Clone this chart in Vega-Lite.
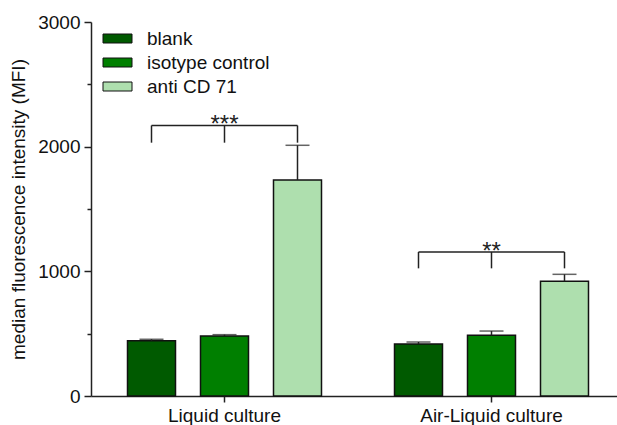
{
  "$schema": "https://vega.github.io/schema/vega-lite/v6.json",
  "autosize": "none",
  "padding": {"left": 91, "top": 22, "right": 0, "bottom": 29},
  "width": 534,
  "height": 374,
  "config": {
    "font": "Liberation Sans",
    "view": {"stroke": null},
    "axis": {
      "grid": false,
      "labelFont": "Liberation Sans",
      "titleFont": "Liberation Sans",
      "labelColor": "#111111",
      "titleColor": "#111111",
      "domainColor": "#222222",
      "tickColor": "#222222",
      "domainWidth": 1.5,
      "tickWidth": 1.5
    }
  },
  "datasets": {
    "bars": [
      {"group": "Liquid culture", "treatment": "blank", "mfi": 443, "upper": 455},
      {"group": "Liquid culture", "treatment": "isotype control", "mfi": 481, "upper": 492},
      {"group": "Liquid culture", "treatment": "anti CD 71", "mfi": 1733, "upper": 2011},
      {"group": "Air-Liquid culture", "treatment": "blank", "mfi": 417, "upper": 433},
      {"group": "Air-Liquid culture", "treatment": "isotype control", "mfi": 487, "upper": 521},
      {"group": "Air-Liquid culture", "treatment": "anti CD 71", "mfi": 920, "upper": 976}
    ],
    "brackets": [
      {"group": "Liquid culture", "treatment": "blank", "lo": 2032, "hi": 2170},
      {"group": "Liquid culture", "treatment": "isotype control", "lo": 2032, "hi": 2170},
      {"group": "Liquid culture", "treatment": "anti CD 71", "lo": 2032, "hi": 2170},
      {"group": "Air-Liquid culture", "treatment": "blank", "lo": 1024, "hi": 1155},
      {"group": "Air-Liquid culture", "treatment": "isotype control", "lo": 1024, "hi": 1155},
      {"group": "Air-Liquid culture", "treatment": "anti CD 71", "lo": 1024, "hi": 1155}
    ],
    "stars": [
      {"group": "Liquid culture", "treatment": "isotype control", "y": 2170, "label": "***"},
      {"group": "Air-Liquid culture", "treatment": "isotype control", "y": 1155, "label": "**"}
    ]
  },
  "resolve": {"axis": {"y": "independent"}},
  "layer": [
    {
      "data": {"name": "bars"},
      "mark": {"type": "bar", "stroke": "#111111", "strokeWidth": 1.5},
      "encoding": {
        "x": {
          "field": "group", "type": "nominal",
          "sort": ["Liquid culture", "Air-Liquid culture"],
          "scale": {"paddingInner": 0, "paddingOuter": 0},
          "axis": {"title": null, "labelAngle": 0, "labelFontSize": 19, "tickSize": 6, "labelPadding": 4}
        },
        "xOffset": {
          "field": "treatment", "type": "nominal",
          "sort": ["blank", "isotype control", "anti CD 71"],
          "scale": {"paddingInner": 0.3425, "paddingOuter": 0.5}
        },
        "y": {
          "field": "mfi", "type": "quantitative",
          "scale": {"domain": [0, 3000], "nice": false},
          "axis": {
            "orient": "left",
            "title": "median fluorescence intensity (MFI)",
            "titleFontSize": 19, "titleFontWeight": "normal", "titlePadding": 9,
            "values": [0, 1000, 2000, 3000], "format": "d",
            "labelFontSize": 19, "tickSize": 7, "labelPadding": 4
          }
        },
        "fill": {
          "field": "treatment", "type": "nominal",
          "sort": ["blank", "isotype control", "anti CD 71"],
          "scale": {"range": ["#005a00", "#007f00", "#aedfae"]},
          "legend": {
            "title": null,
            "orient": "none",
            "legendX": 16,
            "legendY": 6,
            "padding": 0,
            "symbolType": "M-1.45,-0.45H1.45V0.45H-1.45Z",
            "symbolSize": 400,
            "symbolStrokeColor": "#111111",
            "symbolStrokeWidth": 1,
            "labelFont": "Liberation Sans",
            "labelFontSize": 19,
            "labelColor": "#111111",
            "labelOffset": 19,
            "rowPadding": 3
          }
        }
      }
    },
    {
      "data": {"name": "bars"},
      "mark": {"type": "rule", "color": "#222222", "strokeWidth": 1.5},
      "encoding": {
        "x": {"field": "group", "type": "nominal", "sort": ["Liquid culture", "Air-Liquid culture"]},
        "xOffset": {"field": "treatment", "type": "nominal", "sort": ["blank", "isotype control", "anti CD 71"]},
        "y": {"field": "mfi", "type": "quantitative", "axis": null},
        "y2": {"field": "upper"}
      }
    },
    {
      "data": {"name": "bars"},
      "mark": {"type": "tick", "color": "#222222", "thickness": 1.5, "size": 24, "orient": "horizontal"},
      "encoding": {
        "x": {"field": "group", "type": "nominal", "sort": ["Liquid culture", "Air-Liquid culture"]},
        "xOffset": {"field": "treatment", "type": "nominal", "sort": ["blank", "isotype control", "anti CD 71"]},
        "y": {"field": "upper", "type": "quantitative", "axis": null}
      }
    },
    {
      "data": {"name": "brackets"},
      "mark": {"type": "rule", "color": "#222222", "strokeWidth": 1.5},
      "encoding": {
        "x": {"field": "group", "type": "nominal", "sort": ["Liquid culture", "Air-Liquid culture"]},
        "xOffset": {"field": "treatment", "type": "nominal", "sort": ["blank", "isotype control", "anti CD 71"]},
        "y": {"field": "lo", "type": "quantitative", "axis": null},
        "y2": {"field": "hi"}
      }
    },
    {
      "data": {"name": "brackets"},
      "mark": {"type": "line", "color": "#222222", "strokeWidth": 1.5},
      "encoding": {
        "x": {"field": "group", "type": "nominal", "sort": ["Liquid culture", "Air-Liquid culture"]},
        "xOffset": {"field": "treatment", "type": "nominal", "sort": ["blank", "isotype control", "anti CD 71"]},
        "y": {"field": "hi", "type": "quantitative", "axis": null},
        "detail": {"field": "group"}
      }
    },
    {
      "data": {"name": "stars"},
      "mark": {"type": "text", "fontSize": 24, "font": "Liberation Sans", "color": "#222222", "baseline": "alphabetic", "dy": 7},
      "encoding": {
        "x": {"field": "group", "type": "nominal", "sort": ["Liquid culture", "Air-Liquid culture"]},
        "xOffset": {"field": "treatment", "type": "nominal", "sort": ["blank", "isotype control", "anti CD 71"]},
        "y": {"field": "y", "type": "quantitative", "axis": null},
        "text": {"field": "label"}
      }
    },
    {
      "mark": {"type": "rule", "color": "#333333", "strokeWidth": 1.5},
      "encoding": {
        "y": {
          "datum": 3000, "type": "quantitative",
          "axis": {
            "orient": "left", "title": null, "labels": false, "domain": false,
            "values": [500, 1500, 2500], "tickSize": 4
          }
        }
      }
    }
  ]
}
